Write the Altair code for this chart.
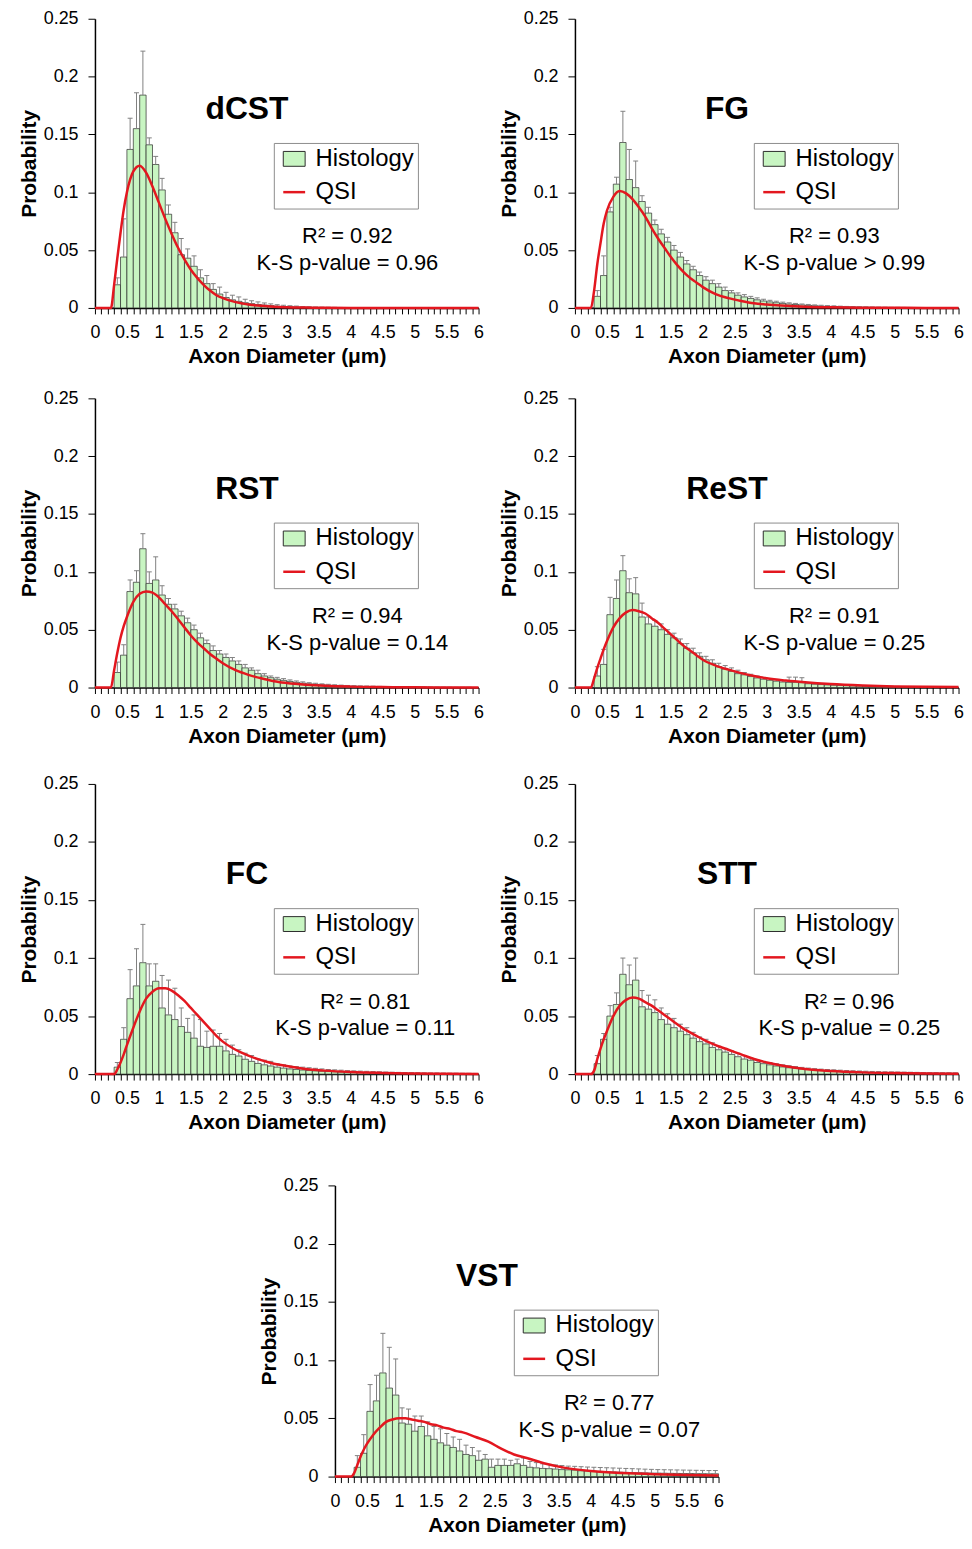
import altair as alt
import pandas as pd

FONT = "Liberation Sans"
GREEN = "#c8f5c2"
EDGE = "#2b2b2b"
GRAY = "#808080"
RED = "#e3171f"

# ---------------- data ----------------
BIN_LEFT = [round(k * 0.1, 1) for k in range(60)]
BIN_RIGHT = [round((k + 1) * 0.1, 1) for k in range(60)]
BIN_MID = [round(k * 0.1 + 0.05, 2) for k in range(60)]
X_TICKS = [round(k * 0.1, 1) for k in range(61)]
Y_TICKS = [0, 0.05, 0.1, 0.15, 0.2, 0.25]
SERIES = ["Histology", "QSI"]

QSI_X = [0, 0.2, 0.25, 0.3, 0.35, 0.4, 0.45, 0.5, 0.6, 0.7, 0.8, 0.9, 1.0, 1.1, 1.2,
         1.3, 1.4, 1.5, 1.6, 1.7, 1.8, 1.9, 2.0, 2.2, 2.4, 2.6, 2.8, 3.0, 3.3, 3.6,
         4.0, 4.5, 5.0, 5.5, 6.0]

DCST_HIST = [0, 0, 0, 0.020, 0.044, 0.137, 0.155, 0.184, 0.141, 0.124,
             0.102, 0.081, 0.065, 0.046, 0.043, 0.036, 0.026, 0.021, 0.016, 0.012,
             0.009, 0.007, 0.0057, 0.0045, 0.0037, 0.003, 0.0025, 0.002, 0.0015, 0.0012,
             0.001, 0.0008, 0.0006, 0.0005, 0.0004, 0.0003, 0.0003, 0.0002, 0.0002, 0.0001,
             0.0001, 0.0001, 0, 0, 0, 0, 0, 0, 0, 0,
             0, 0, 0, 0, 0, 0, 0, 0, 0, 0]
DCST_TOP = [0, 0, 0, 0.026, 0.077, 0.164, 0.186, 0.222, 0.147, 0.131,
            0.112, 0.089, 0.074, 0.060, 0.051, 0.045, 0.033, 0.028, 0.021, 0.018,
            0.0135, 0.011, 0.0095, 0.0075, 0.0062, 0.0052, 0.0043, 0.0035, 0.0028, 0.0023,
            0.0019, 0.0016, 0.0012, 0.001, 0.0008, 0.0007, 0.0006, 0.0005, 0.0004, 0.0003,
            0.0003, 0.0002, 0, 0, 0, 0, 0, 0, 0, 0,
            0, 0, 0, 0, 0, 0, 0, 0, 0, 0]
DCST_QSI = [0, 0, 0, 0.02, 0.043, 0.065, 0.085, 0.1, 0.118, 0.123, 0.117, 0.105, 0.091,
            0.077, 0.064, 0.052, 0.042, 0.033, 0.026, 0.02, 0.015, 0.011, 0.0085, 0.005,
            0.003, 0.0018, 0.001, 0.0006, 0.0003, 0.0001, 0, 0, 0, 0, 0]

FG_HIST = [0, 0, 0, 0.010, 0.028, 0.083, 0.107, 0.143, 0.111, 0.104,
           0.092, 0.082, 0.072, 0.064, 0.057, 0.050, 0.044, 0.038, 0.033, 0.028,
           0.024, 0.021, 0.018, 0.015, 0.013, 0.011, 0.0095, 0.0082, 0.007, 0.006,
           0.0052, 0.0045, 0.0039, 0.0034, 0.003, 0.0026, 0.0022, 0.0019, 0.0016, 0.0014,
           0.0012, 0.001, 0.0009, 0.0008, 0.0007, 0.0006, 0.0005, 0.0004, 0.0004, 0.0003,
           0.0003, 0.0002, 0.0002, 0.0002, 0.0001, 0.0001, 0.0001, 0.0001, 0, 0]
FG_TOP = [0, 0, 0, 0.015, 0.045, 0.087, 0.113, 0.170, 0.137, 0.127,
          0.097, 0.087, 0.076, 0.068, 0.061, 0.054, 0.048, 0.041, 0.036, 0.031,
          0.027, 0.024, 0.021, 0.018, 0.015, 0.013, 0.0115, 0.01, 0.0087, 0.0075,
          0.0066, 0.0058, 0.005, 0.0044, 0.0039, 0.0034, 0.003, 0.0026, 0.0023, 0.002,
          0.0018, 0.0015, 0.0013, 0.0012, 0.001, 0.0009, 0.0008, 0.0007, 0.0006, 0.0005,
          0.0005, 0.0004, 0.0004, 0.0003, 0.0003, 0.0002, 0.0002, 0.0002, 0, 0]
FG_QSI = [0, 0, 0, 0.015, 0.038, 0.056, 0.073, 0.084, 0.096, 0.101, 0.099, 0.094, 0.087,
          0.079, 0.069, 0.06, 0.052, 0.044, 0.037, 0.031, 0.026, 0.022, 0.018, 0.012,
          0.0085, 0.006, 0.004, 0.003, 0.0018, 0.001, 0.0005, 0.0002, 0.0001, 0, 0]

RST_HIST = [0, 0, 0, 0.013, 0.028, 0.083, 0.091, 0.120, 0.090, 0.093,
            0.080, 0.072, 0.068, 0.062, 0.056, 0.050, 0.043, 0.038, 0.032, 0.029,
            0.026, 0.023, 0.020, 0.017, 0.015, 0.012, 0.010, 0.0085, 0.0072, 0.0062,
            0.0053, 0.0045, 0.0038, 0.0032, 0.0028, 0.0024, 0.002, 0.0017, 0.0015, 0.0013,
            0.0011, 0.001, 0.0009, 0.0008, 0.0007, 0.0006, 0.0005, 0.0004, 0.0004, 0.0003,
            0.0003, 0.0003, 0.0002, 0.0002, 0.0002, 0.0001, 0.0001, 0.0001, 0.0001, 0]
RST_TOP = [0, 0, 0, 0.022, 0.037, 0.093, 0.101, 0.133, 0.100, 0.113,
           0.088, 0.077, 0.072, 0.066, 0.060, 0.054, 0.047, 0.041, 0.036, 0.032,
           0.029, 0.026, 0.023, 0.020, 0.017, 0.015, 0.012, 0.010, 0.0088, 0.0077,
           0.0066, 0.0057, 0.0049, 0.0042, 0.0037, 0.0032, 0.0028, 0.0024, 0.0021, 0.0018,
           0.0016, 0.0014, 0.0013, 0.0012, 0.001, 0.0009, 0.0008, 0.0007, 0.0006, 0.0005,
           0.0005, 0.0005, 0.0004, 0.0004, 0.0003, 0.0003, 0.0002, 0.0002, 0.0002, 0]
RST_QSI = [0, 0, 0, 0.015, 0.03, 0.043, 0.053, 0.061, 0.074, 0.081, 0.083, 0.082, 0.078,
           0.072, 0.066, 0.059, 0.052, 0.045, 0.039, 0.034, 0.029, 0.025, 0.021, 0.015,
           0.011, 0.008, 0.0055, 0.004, 0.0025, 0.0015, 0.0008, 0.0004, 0.0002, 0.0001, 0]

REST_HIST = [0, 0, 0, 0.010, 0.020, 0.063, 0.077, 0.101, 0.082, 0.081,
             0.061, 0.055, 0.053, 0.050, 0.046, 0.043, 0.038, 0.034, 0.030, 0.027,
             0.024, 0.021, 0.018, 0.016, 0.014, 0.012, 0.011, 0.0095, 0.0083, 0.0072,
             0.0063, 0.0055, 0.0048, 0.0045, 0.0045, 0.0042, 0.0033, 0.0029, 0.0026, 0.0023,
             0.002, 0.0018, 0.0016, 0.0014, 0.0012, 0.0011, 0.001, 0.0009, 0.0008, 0.0007,
             0.0007, 0.0006, 0.0006, 0.0005, 0.0005, 0.0004, 0.0004, 0.0003, 0.0003, 0.0003]
REST_TOP = [0, 0, 0, 0.018, 0.033, 0.078, 0.093, 0.114, 0.094, 0.095,
            0.073, 0.061, 0.058, 0.055, 0.050, 0.047, 0.042, 0.038, 0.034, 0.030,
            0.027, 0.024, 0.021, 0.019, 0.017, 0.015, 0.013, 0.0115, 0.01, 0.0088,
            0.0078, 0.0068, 0.006, 0.009, 0.009, 0.0085, 0.0042, 0.0037, 0.0033, 0.003,
            0.0027, 0.0024, 0.0022, 0.002, 0.0018, 0.0016, 0.0015, 0.0013, 0.0012, 0.0011,
            0.001, 0.0009, 0.0009, 0.0008, 0.0007, 0.0007, 0.0006, 0.0006, 0.0005, 0.0005]
REST_QSI = [0, 0, 0, 0.008, 0.017, 0.025, 0.033, 0.04, 0.052, 0.06, 0.065, 0.067, 0.066,
            0.064, 0.06, 0.056, 0.051, 0.046, 0.041, 0.036, 0.032, 0.028, 0.024, 0.019,
            0.0155, 0.0125, 0.01, 0.008, 0.006, 0.0045, 0.003, 0.0018, 0.001, 0.0006, 0.0004]

FC_HIST = [0, 0, 0, 0.006, 0.030, 0.065, 0.076, 0.096, 0.076, 0.080,
           0.057, 0.051, 0.047, 0.041, 0.036, 0.031, 0.024, 0.023, 0.024, 0.024,
           0.020, 0.017, 0.0156, 0.0128, 0.011, 0.0092, 0.008, 0.007, 0.006, 0.0052,
           0.0045, 0.004, 0.0035, 0.0031, 0.0028, 0.0025, 0.0022, 0.002, 0.0018, 0.0016,
           0.0014, 0.0013, 0.0012, 0.0011, 0.001, 0.0009, 0.0008, 0.0007, 0.0007, 0.0006,
           0.0006, 0.0005, 0.0005, 0.0004, 0.0004, 0.0004, 0.0003, 0.0003, 0.0003, 0.0002]
FC_TOP = [0, 0, 0, 0.010, 0.040, 0.090, 0.108, 0.129, 0.095, 0.095,
          0.085, 0.081, 0.074, 0.057, 0.048, 0.051, 0.047, 0.037, 0.038, 0.035,
          0.030, 0.025, 0.021, 0.018, 0.016, 0.013, 0.012, 0.011, 0.009, 0.008,
          0.007, 0.0065, 0.006, 0.0055, 0.005, 0.0045, 0.004, 0.0037, 0.0034, 0.003,
          0.0028, 0.0026, 0.0024, 0.0022, 0.002, 0.0018, 0.0016, 0.0015, 0.0014, 0.0013,
          0.0012, 0.0011, 0.001, 0.001, 0.0009, 0.0008, 0.0008, 0.0007, 0.0007, 0.0006]
FC_QSI = [0, 0, 0, 0, 0.004, 0.01, 0.017, 0.025, 0.04, 0.054, 0.065, 0.071, 0.074,
          0.074, 0.072, 0.068, 0.063, 0.057, 0.051, 0.045, 0.039, 0.033, 0.028, 0.021,
          0.016, 0.012, 0.009, 0.007, 0.0045, 0.003, 0.0018, 0.001, 0.0005, 0.0003, 0.0002]

STT_HIST = [0, 0, 0, 0.009, 0.030, 0.050, 0.060, 0.086, 0.077, 0.081,
            0.058, 0.056, 0.053, 0.047, 0.043, 0.040, 0.037, 0.034, 0.031, 0.028,
            0.026, 0.023, 0.021, 0.019, 0.017, 0.015, 0.013, 0.012, 0.010, 0.009,
            0.008, 0.007, 0.0062, 0.0055, 0.005, 0.0045, 0.004, 0.0036, 0.0032, 0.0029,
            0.0026, 0.0023, 0.0021, 0.0019, 0.0017, 0.0016, 0.0015, 0.0014, 0.0013, 0.0012,
            0.0011, 0.001, 0.001, 0.0009, 0.0009, 0.0008, 0.0008, 0.0007, 0.0007, 0.0006]
STT_TOP = [0, 0, 0, 0.016, 0.035, 0.059, 0.070, 0.100, 0.094, 0.100,
           0.072, 0.068, 0.064, 0.057, 0.052, 0.048, 0.043, 0.040, 0.036, 0.032,
           0.030, 0.027, 0.024, 0.022, 0.020, 0.018, 0.016, 0.014, 0.012, 0.011,
           0.010, 0.009, 0.008, 0.0072, 0.0065, 0.0058, 0.0052, 0.0047, 0.0043, 0.004,
           0.0037, 0.0034, 0.0031, 0.0029, 0.0027, 0.0025, 0.0023, 0.0022, 0.002, 0.0019,
           0.0018, 0.0017, 0.0016, 0.0015, 0.0014, 0.0013, 0.0013, 0.0012, 0.0012, 0.0011]
STT_QSI = [0, 0, 0, 0.003, 0.013, 0.022, 0.03, 0.037, 0.05, 0.059, 0.064, 0.066, 0.065,
           0.062, 0.059, 0.055, 0.051, 0.047, 0.043, 0.039, 0.036, 0.033, 0.03, 0.025,
           0.021, 0.017, 0.013, 0.010, 0.0068, 0.0045, 0.0027, 0.0015, 0.0009, 0.0005, 0.0003]

VST_HIST = [0, 0, 0, 0.008, 0.020, 0.056, 0.065, 0.089, 0.076, 0.070,
            0.046, 0.045, 0.039, 0.043, 0.035, 0.032, 0.029, 0.027, 0.025, 0.022,
            0.019, 0.018, 0.014, 0.015, 0.008, 0.0096, 0.0096, 0.0096, 0.011, 0.0096,
            0.008, 0.0075, 0.007, 0.0068, 0.0065, 0.006, 0.0058, 0.0055, 0.005, 0.0048,
            0.0046, 0.0044, 0.0042, 0.004, 0.0038, 0.0036, 0.0034, 0.0033, 0.0032, 0.003,
            0.003, 0.0029, 0.0028, 0.0027, 0.0026, 0.0026, 0.0025, 0.0025, 0.0024, 0.0024]
VST_TOP = [0, 0, 0, 0.018, 0.036, 0.079, 0.087, 0.123, 0.111, 0.101,
           0.059, 0.058, 0.052, 0.052, 0.047, 0.043, 0.041, 0.037, 0.034, 0.032,
           0.027, 0.025, 0.022, 0.019, 0.015, 0.015, 0.015, 0.014, 0.015, 0.016,
           0.013, 0.012, 0.011, 0.0105, 0.01, 0.0095, 0.009, 0.0088, 0.0085, 0.0082,
           0.008, 0.0078, 0.0076, 0.0074, 0.0072, 0.007, 0.0068, 0.0066, 0.0064, 0.0062,
           0.006, 0.0059, 0.0058, 0.0057, 0.0056, 0.0055, 0.0054, 0.0053, 0.0052, 0.0052]
VST_QSI = [0, 0, 0, 0.003, 0.01, 0.017, 0.023, 0.028, 0.036, 0.042, 0.047, 0.049, 0.05,
           0.05, 0.049, 0.048, 0.047, 0.045, 0.044, 0.042, 0.041, 0.039, 0.038, 0.034,
           0.030, 0.024, 0.019, 0.016, 0.011, 0.0075, 0.0048, 0.003, 0.002, 0.0014, 0.001]

# ---------------- styling ----------------
XS = alt.Scale(domain=[0, 6], nice=False, zero=False)
YS = alt.Scale(domain=[0, 0.25], nice=False)

X_AXIS = alt.Axis(values=X_TICKS, format="~g",
                  labelExpr="round(datum.value * 10) % 5 == 0 ? datum.label : ''",
                  title="Axon Diameter (\u03bcm)", titleFont=FONT, titleFontSize=21,
                  titleFontWeight="bold", titleColor="black", titlePadding=4,
                  labelFont=FONT, labelFontSize=18, labelColor="black", labelPadding=10,
                  labelFlush=False, labelOverlap=False, tickSize=6, tickColor="black",
                  tickWidth=1, domainColor="black", domainWidth=1.5, grid=False)
Y_AXIS = alt.Axis(values=Y_TICKS, format="~g", title="Probability", titleFont=FONT,
                  titleFontSize=21, titleFontWeight="bold", titleColor="black",
                  titlePadding=4, labelFont=FONT, labelFontSize=18, labelColor="black",
                  labelPadding=10, tickSize=7, tickColor="black", tickWidth=1,
                  domainColor="black", domainWidth=1.5, grid=False)

RECT_PATH = "M-1,-0.68H1V0.68H-1Z"
LEG = alt.Legend(orient="none", legendX=180, legendY=125, title=None,
                 strokeColor="#8c8c8c", fillColor="white", padding=4,
                 symbolOffset=4, labelFont=FONT, labelFontSize=24, labelColor="black",
                 labelOffset=9, rowPadding=9, symbolSize=484)

W = 386


def panel(name, hist, top, qsi, r2, ks, sx, h):
    bar_df = pd.DataFrame({"x": BIN_LEFT, "x2": BIN_RIGHT, "xc": BIN_MID,
                           "p": hist, "top": top})
    line_df = pd.DataFrame({"x": QSI_X, "p": qsi})
    leg_df = pd.DataFrame({"series": SERIES})

    bars = alt.Chart(bar_df).mark_bar(fill=GREEN, stroke=EDGE, strokeWidth=0.7).encode(
        x=alt.X("x:Q", scale=XS, axis=X_AXIS),
        x2="x2:Q",
        y=alt.Y("p:Q", scale=YS, axis=Y_AXIS),
        y2=alt.datum(0),
    )
    err = alt.Chart(bar_df).transform_filter("datum.top > datum.p")
    rules = err.mark_rule(color=GRAY, strokeWidth=1).encode(
        x=alt.X("xc:Q", scale=XS, axis=X_AXIS),
        y=alt.Y("p:Q", scale=YS, axis=Y_AXIS),
        y2="top:Q",
    )
    caps = err.mark_tick(orient="horizontal", size=5, thickness=1, color=GRAY,
                         opacity=1).encode(
        x=alt.X("xc:Q", scale=XS, axis=X_AXIS),
        y=alt.Y("top:Q", scale=YS, axis=Y_AXIS),
    )
    line = alt.Chart(line_df).mark_line(color=RED, strokeWidth=2.5,
                                        interpolate="monotone").encode(
        x=alt.X("x:Q", scale=XS, axis=X_AXIS),
        y=alt.Y("p:Q", scale=YS, axis=Y_AXIS),
    )
    legend = alt.Chart(leg_df).mark_point(filled=True, opacity=1, clip=True).encode(
        x=alt.value(-60), y=alt.value(-60),
        shape=alt.Shape("series:N", scale=alt.Scale(domain=SERIES, range=[RECT_PATH, "stroke"]), legend=LEG),
        fill=alt.Fill("series:N", scale=alt.Scale(domain=SERIES, range=[GREEN, RED]), legend=LEG),
        stroke=alt.Stroke("series:N", scale=alt.Scale(domain=SERIES, range=[EDGE, RED]), legend=LEG),
        strokeWidth=alt.StrokeWidth("series:N", scale=alt.Scale(domain=SERIES, range=[1, 2.5]), legend=LEG),
    )
    title = alt.Chart(pd.DataFrame({"t": [name]})).mark_text(
        font=FONT, fontSize=32, fontWeight="bold", color="black",
        align="center", baseline="middle").encode(
        text="t:N", x=alt.value(153), y=alt.value(91))
    s1 = alt.Chart(pd.DataFrame({"t": [r2]})).mark_text(
        font=FONT, fontSize=22, color="black", align="center", baseline="middle").encode(
        text="t:N", x=alt.value(sx), y=alt.value(219))
    s2 = alt.Chart(pd.DataFrame({"t": [ks]})).mark_text(
        font=FONT, fontSize=22, color="black", align="center", baseline="middle").encode(
        text="t:N", x=alt.value(sx), y=alt.value(246))
    return alt.layer(bars, rules, caps, line, legend, title, s1, s2).properties(
        width=W, height=h)


IND = dict(shape="independent", fill="independent", stroke="independent",
           strokeWidth="independent")


def hc(*charts, spacing):
    return alt.hconcat(*charts, spacing=spacing).resolve_scale(**IND).resolve_legend(**IND)


def vc(*charts, spacing, center=False):
    return alt.vconcat(*charts, spacing=spacing, center=center).resolve_scale(**IND).resolve_legend(**IND)


p1 = panel("dCST", DCST_HIST, DCST_TOP, DCST_QSI, "R\u00b2 = 0.92", "K-S p-value = 0.96", 254, 291)
p2 = panel("FG", FG_HIST, FG_TOP, FG_QSI, "R\u00b2 = 0.93", "K-S p-value > 0.99", 261, 291)
p3 = panel("RST", RST_HIST, RST_TOP, RST_QSI, "R\u00b2 = 0.94", "K-S p-value = 0.14", 264, 291)
p4 = panel("ReST", REST_HIST, REST_TOP, REST_QSI, "R\u00b2 = 0.91", "K-S p-value = 0.25", 261, 291)
p5 = panel("FC", FC_HIST, FC_TOP, FC_QSI, "R\u00b2 = 0.81", "K-S p-value = 0.11", 272, 292)
p6 = panel("STT", STT_HIST, STT_TOP, STT_QSI, "R\u00b2 = 0.96", "K-S p-value = 0.25", 276, 292)
p7 = panel("VST", VST_HIST, VST_TOP, VST_QSI, "R\u00b2 = 0.77", "K-S p-value = 0.07", 276, 293)

row1 = hc(p1, p2, spacing=13)
row2 = hc(p3, p4, spacing=13)
row3 = hc(p5, p6, spacing=13)

top3 = vc(vc(row1, row2, spacing=23), row3, spacing=29)
chart = vc(top3, p7, spacing=44, center=True).properties(
    padding={"left": 10, "top": -3, "right": 0, "bottom": 0}
).configure_view(stroke=None).configure_axis(grid=False)

chart.save("out.html", embed_options={"renderer": "svg", "actions": False})
